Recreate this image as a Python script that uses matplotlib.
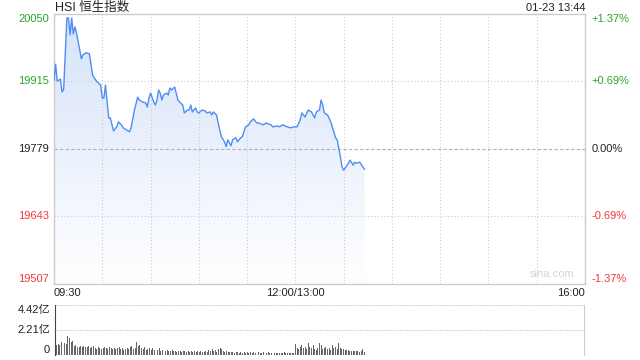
import matplotlib
matplotlib.use("Agg")
import matplotlib.pyplot as plt
import numpy as np

plt.rcParams['font.family'] = ['Liberation Sans', 'Noto Sans CJK SC', 'DejaVu Sans']

# trading minutes since 09:30 (lunch break removed) and index level
minutes = [0, 1, 2, 4, 5, 6, 8, 9, 10, 11, 12, 13, 14, 17, 18, 20, 22, 24, 26, 27,
           29, 30, 31, 32, 34, 35, 37, 39, 40, 42, 43, 45, 47, 48, 50, 52, 53, 55, 57, 58,
           59, 60, 62, 63, 64, 65, 66, 67, 68, 70, 71, 72, 73, 75, 77, 78, 80, 81, 83, 84,
           85, 86, 88, 89, 90, 92, 94, 95, 97, 98, 99, 101, 102, 104, 106, 107, 108, 109, 110, 111,
           113, 114, 116, 117, 119, 121, 122, 124, 126, 127, 130, 132, 133, 135, 136, 139, 140, 142, 145, 147,
           149, 151, 153, 154, 156, 158, 160, 162, 163, 165, 166, 167, 168, 170, 172, 175, 176, 178, 179, 180,
           181, 183, 184, 186, 187, 188, 190, 192, 193]
prices = [19917, 19949, 19915, 19919, 19893, 19899, 20042, 20042, 20008, 20042,
          20010, 20024, 20012, 19960, 19968, 19972, 19970, 19927, 19917, 19913,
          19907, 19881, 19881, 19907, 19841, 19841, 19815, 19823, 19833, 19827,
          19821, 19817, 19813, 19823, 19857, 19883, 19877, 19873, 19871, 19863,
          19881, 19891, 19873, 19867, 19877, 19897, 19891, 19877, 19887, 19891,
          19887, 19901, 19897, 19903, 19877, 19873, 19867, 19851, 19857, 19857,
          19867, 19853, 19861, 19853, 19851, 19857, 19855, 19851, 19853, 19847,
          19853, 19847, 19831, 19803, 19793, 19783, 19797, 19791, 19785, 19797,
          19801, 19793, 19801, 19803, 19823, 19827, 19833, 19839, 19831, 19831,
          19827, 19831, 19829, 19827, 19823, 19825, 19823, 19827, 19823, 19821,
          19823, 19823, 19837, 19851, 19843, 19857, 19853, 19841, 19853, 19857,
          19877, 19867, 19851, 19847, 19833, 19801, 19797, 19762, 19742, 19736,
          19740, 19750, 19756, 19746, 19752, 19750, 19752, 19742, 19738]

# per-minute turnover, 亿
volume = [1.41, 0.88, 0.97, 0.88, 1.15, 1.24, 1.06, 0.97, 1.68, 1.50,
          1.15, 1.24, 0.80, 0.88, 0.71, 0.71, 0.80, 0.71, 0.80, 0.71,
          0.71, 0.80, 0.62, 0.71, 0.80, 0.62, 0.53, 0.71, 0.62, 0.53,
          0.62, 0.71, 0.62, 0.53, 0.71, 0.62, 0.53, 0.62, 0.53, 0.62,
          0.71, 0.53, 0.62, 0.44, 0.53, 0.62, 0.53, 0.71, 0.80, 0.53,
          0.62, 1.15, 0.80, 0.88, 0.62, 0.53, 0.71, 0.44, 0.53, 0.62,
          0.44, 0.62, 0.44, 0.53, 0.44, 0.62, 0.35, 0.44, 0.53, 0.35,
          0.44, 0.35, 0.35, 0.44, 0.35, 0.35, 0.27, 0.35, 0.35, 0.27,
          0.35, 0.35, 0.27, 0.35, 0.27, 0.35, 0.27, 0.35, 0.27, 0.35,
          0.27, 0.35, 0.27, 0.27, 0.35, 0.27, 0.44, 0.35, 0.53, 0.35,
          0.44, 0.27, 0.53, 0.62, 0.53, 0.35, 0.27, 0.35, 0.27, 0.27,
          0.27, 0.27, 0.18, 0.27, 0.27, 0.18, 0.27, 0.18, 0.27, 0.18,
          0.27, 0.18, 0.27, 0.18, 0.27, 0.18, 0.18, 0.27, 0.18, 0.18,
          0.27, 0.18, 0.18, 0.27, 0.18, 0.18, 0.27, 0.18, 0.18, 0.18,
          0.18, 0.18, 0.18, 0.27, 0.18, 0.18, 0.18, 0.18, 0.18, 0.18,
          0.97, 0.62, 0.53, 0.71, 0.88, 0.62, 0.71, 0.53, 1.06, 0.71,
          0.62, 0.88, 0.53, 0.44, 0.62, 1.06, 0.88, 0.53, 0.62, 0.71,
          0.53, 0.62, 0.44, 0.88, 0.62, 0.71, 0.53, 1.06, 0.62, 0.53,
          0.53, 0.44, 0.44, 0.44, 0.35, 0.35, 0.35, 0.35, 0.35, 0.35,
          0.27, 0.35, 0.53, 0.27]

prev_close = 19779
y_ticks = [19507, 19643, 19779, 19915, 20050]
pct_labels = ['-1.37%', '-0.69%', '0.00%', '+0.69%', '+1.37%']
tick_colors = ['#f03a3a', '#f03a3a', '#222222', '#2aa52a', '#2aa52a']
vol_ticks = [0, 2.21, 4.42]
vol_labels = ['0', '2.21亿', '4.42亿']


def label_va(i, n):
    # end labels are pulled inside the panel
    if i == 0:
        return 'bottom'
    if i == n - 1:
        return 'top'
    return 'center'


fig = plt.figure(figsize=(6.4, 3.6), dpi=100)
ax = fig.add_axes([54 / 640, 1 - 284 / 360, 531 / 640, 270 / 360])
vax = fig.add_axes([55 / 640, 1 - 355 / 360, 529 / 640, 50 / 360])

ax.set_xlim(0, 330)
ax.set_ylim(19507, 20050)

# grid, drawn over the fill
for xv in range(30, 330, 30):
    ax.axvline(xv, color='#cccccc', lw=0.8, ls=(0, (1, 2)), zorder=2)
for yv in y_ticks[1:-1]:
    if yv == prev_close:
        ax.axhline(yv, color='#b0b0b0', lw=0.8, ls=(0, (3, 2)), zorder=2)
    else:
        ax.axhline(yv, color='#cccccc', lw=0.8, ls=(0, (1, 2)), zorder=2)

# gradient fill under the line
poly = ax.fill_between(minutes, prices, 19507, color='none', lw=0)
grad = np.linspace(0, 1, 256).reshape(-1, 1)
top_c = np.array([0.84, 0.89, 0.98])
img = np.ones((256, 1, 3)) * (1 - grad[..., None]) + top_c * grad[..., None]
im = ax.imshow(img, extent=[0, 330, 19507, 20050], origin='lower', aspect='auto', zorder=1)
path = poly.get_paths()[0]
im.set_clip_path(path, transform=ax.transData)

ax.plot(minutes, prices, color='#4f8ef0', lw=1.0, zorder=3)

for s in ax.spines.values():
    s.set_color('#cccccc')
    s.set_linewidth(1)

ax.set_xticks([])
ax.set_yticks([])
n = len(y_ticks)
for i, (yv, lab, c) in enumerate(zip(y_ticks, pct_labels, tick_colors)):
    va = label_va(i, n)
    ax.text(-3, yv, str(yv), color=c, fontsize=8, ha='right', va=va, clip_on=False)
    ax.text(334, yv, lab, color=c, fontsize=8, ha='left', va=va, clip_on=False)

ax.text(0, -0.035, '09:30', transform=ax.transAxes, fontsize=8, ha='left', va='center', color='#222222')
ax.text(150 / 330, -0.035, '12:00/13:00', transform=ax.transAxes, fontsize=8, ha='center', va='center', color='#222222')
ax.text(1, -0.035, '16:00', transform=ax.transAxes, fontsize=8, ha='right', va='center', color='#222222')
ax.text(0.98, 0.02, 'sina.com', transform=ax.transAxes, fontsize=8, ha='right', va='bottom', color='#d5d5d5')

fig.text(55 / 640, 1 - 8 / 360, 'HSI 恒生指数', fontsize=9, ha='left', va='center', color='#222222')
fig.text(585 / 640, 1 - 8 / 360, '01-23 13:44', fontsize=8, ha='right', va='center', color='#222222')

# volume panel
vax.set_xlim(0, 330)
vax.set_ylim(0, 4.42)
vax.bar(np.arange(len(volume)), volume, width=0.6, color='#666666', zorder=2)
for yv in vol_ticks:
    vax.axhline(yv, color='#c8c8c8', lw=0.8, ls=(0, (1, 1)), zorder=0)
vax.spines['top'].set_visible(False)
vax.spines['bottom'].set_visible(False)
vax.spines['left'].set_color('#444444')
vax.spines['right'].set_color('#cccccc')
vax.set_xticks([])
vax.set_yticks([])
for i, (yv, lab) in enumerate(zip(vol_ticks, vol_labels)):
    vax.text(-3, yv, lab, fontsize=8, color='#222222', ha='right',
             va=label_va(i, len(vol_ticks)), clip_on=False)

fig.savefig('out.png', dpi=100)
